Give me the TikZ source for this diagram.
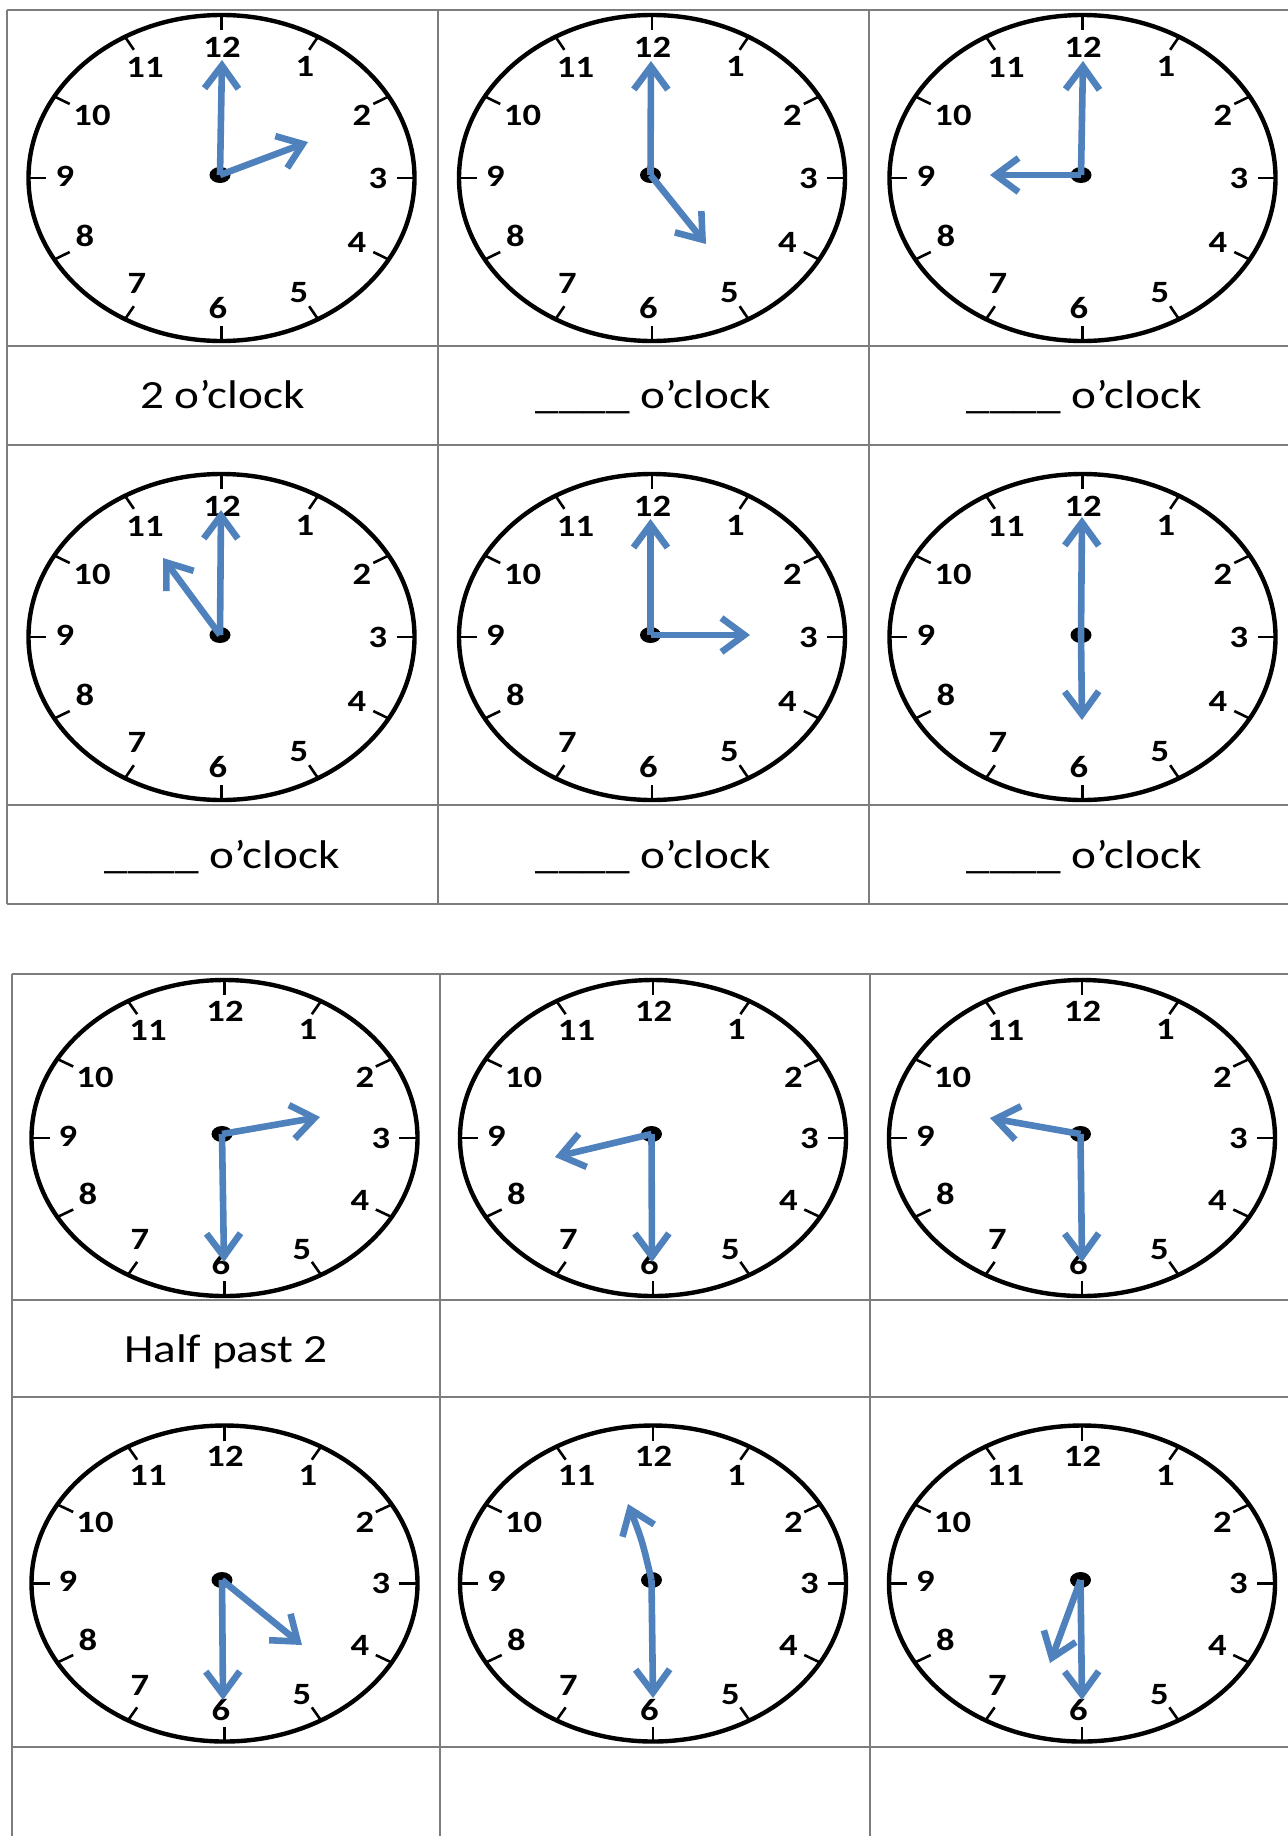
\documentclass[tikz,border=0pt]{standalone}
\usepackage{fontspec}
\usepackage{graphicx}
\setmainfont{Carlito}
\usetikzlibrary{arrows.meta,calc}
\definecolor{handblue}{RGB}{79,129,189}
\definecolor{gridgray}{RGB}{125,125,125}
\newcommand\sx[1]{\scalebox{1.18}[1]{#1}}
\tikzset{
  face/.style={line width=2.2pt, black},
  tickmark/.style={line width=1.3pt, black},
  num/.style={font=\fontsize{15.5}{15.5}\selectfont\bfseries, inner sep=0pt},
  hand/.style={handblue, line width=3.3pt, -{Straight Barb[length=11.5pt,width=17pt]}},
  gridline/.style={gridgray, line width=0.9pt},
  lbl/.style={font=\fontsize{20}{24}\selectfont, anchor=base, inner sep=0pt},
}
\newcommand\clockdial[4]{%
  \draw[face] (#2,#3) ellipse [x radius=193, y radius=#4];
  \foreach \h in {1,...,12}{
    \draw[tickmark] ($(#2,#3)+({193*sin(30*\h)},{-#4*cos(30*\h)})$) -- ($(#2,#3)+({(193/#4)*(#4-15)*sin(30*\h)},{-(#4-15)*cos(30*\h)})$);
  }
  \foreach \h/\nx/\ny in {12/0.5/-131, 1/83.5/-112, 2/140.5/-63, 3/156.5/0, 4/135.5/64, 5/77.5/115, 6/-3.5/130, 7/-84.5/105, 8/-136.5/58, 9/-156.5/-2, 10/-129.5/-63, 11/-76.5/-111}{
    \node[num] (#1n\h) at ($(#2,#3)+(\nx,{\ny/163*#4})$) {\sx{\h}};
  }
}
\newcommand\clockhands[7]{%
  \coordinate (#1c) at (#2,#3);
  \coordinate (#1m) at (#4,#5);
  \coordinate (#1h) at (#6,#7);
  \fill (#1c) ellipse [x radius=10.5, y radius=8];
  \draw[hand] (#1c) -- (#1m);
  \draw[hand] (#1c) -- (#1h);
}
\begin{document}
\begin{tikzpicture}[x=0.5pt, y=-0.5pt]
\useasboundingbox (0,0) rectangle (1288,1836);
\fill[white] (0,0) rectangle (1288,1836);
% table 1 grid
\foreach \yy in {10,346,445,805,904} \draw[gridline] (7,\yy) -- (1288,\yy);
\foreach \xx in {7,438,869} \draw[gridline] (\xx,10) -- (\xx,904);
% table 2 grid
\foreach \yy in {974,1300,1397,1747} \draw[gridline] (12,\yy) -- (1288,\yy);
\foreach \xx in {12,440,870} \draw[gridline] (\xx,974) -- (\xx,1836);
% table 1 clocks
\clockdial{A}{221.5}{178}{163}
\clockhands{A}{220}{175}{222}{60}{308}{142}
\clockdial{B}{652}{178}{163}
\clockhands{B}{650.5}{175}{651}{61}{706}{244}
\clockdial{C}{1082.5}{178}{163}
\clockhands{C}{1081}{175}{1083}{61}{990}{175}
\clockdial{D}{221.5}{637}{163}
\clockhands{D}{220}{635}{221}{510}{163}{558}
\clockdial{E}{652}{637}{163}
\clockhands{E}{650.5}{635}{650.5}{519}{750}{635}
\clockdial{F}{1082.5}{637}{163}
\clockhands{F}{1081}{635}{1082}{517}{1082}{720}
% table 2 clocks
\clockdial{G}{224.5}{1138}{158}
\clockhands{G}{222}{1134}{224}{1262}{320}{1117}
\clockdial{H}{653}{1138}{158}
\clockhands{H}{651.5}{1134}{652}{1262}{555}{1157}
\clockdial{I}{1082}{1138}{158}
\clockhands{I}{1080.5}{1134}{1082}{1262}{990}{1118}
\clockdial{J}{224.5}{1583.5}{158}
\clockhands{J}{222}{1580}{223}{1700}{302}{1645}
\clockdial{K}{653}{1583.5}{158}
\coordinate (Kc) at (651.5,1580);
\coordinate (Km) at (653,1698);
\coordinate (Kh) at (628,1504);
\fill (Kc) ellipse [x radius=10.5, y radius=8];
\draw[hand] (Kc) -- (Km);
\draw[hand] (Kc) .. controls (642,1540) .. (Kh);
\clockdial{L}{1082}{1583.5}{158}
\clockhands{L}{1080.5}{1580}{1082}{1700}{1050}{1663}
% labels
\node[lbl] (lab1) at (222.5,408) {\sx{2 o’clock}};
\node[lbl] (lab2) at (653.5,408) {\sx{\_\_\_\_ o’clock}};
\node[lbl] (lab3) at (1084.5,408) {\sx{\_\_\_\_ o’clock}};
\node[lbl] (lab4) at (222.5,868) {\sx{\_\_\_\_ o’clock}};
\node[lbl] (lab5) at (653.5,868) {\sx{\_\_\_\_ o’clock}};
\node[lbl] (lab6) at (1084.5,868) {\sx{\_\_\_\_ o’clock}};
\node[lbl] (lab7) at (226,1362) {\sx{Half past 2}};
\end{tikzpicture}
\end{document}
